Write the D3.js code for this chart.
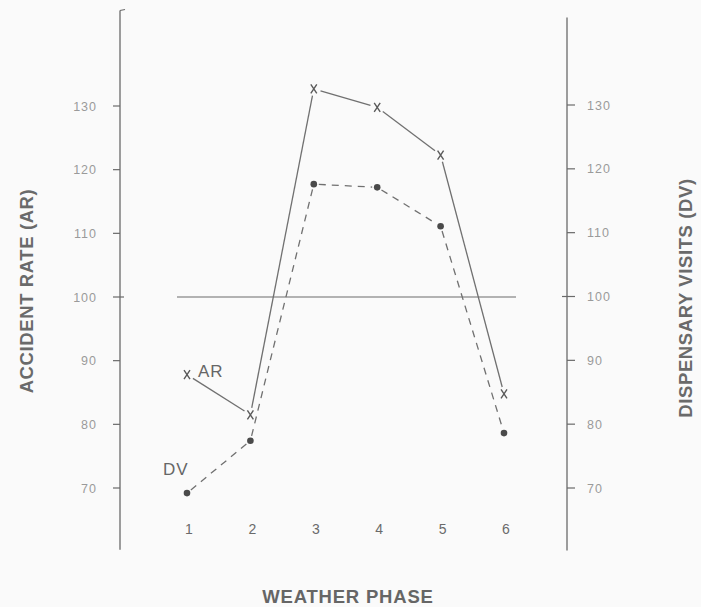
<!DOCTYPE html>
<html>
<head>
<meta charset="utf-8">
<script src="https://cdn.jsdelivr.net/npm/d3@7"></script>
<style>
  html, body { margin: 0; padding: 0; background: #fafafa; }
  svg { display: block; }
  text { font-family: "Liberation Sans", Arial, sans-serif; }
</style>
</head>
<body>
<svg id="chart" width="701" height="607"></svg>
<script>
// Weather phases on the horizontal axis
const phases = [1, 2, 3, 4, 5, 6];
// Accident rate index (AR) per phase, left scale
const accidentRate = [87.8, 81.5, 132.7, 129.8, 122.3, 84.8];
// Dispensary visits index (DV) per phase, right scale
const dispensaryVisits = [69.2, 77.4, 117.6, 117.1, 111.0, 78.6];
// Tick values shared by both vertical scales
const yTicks = [70, 80, 90, 100, 110, 120, 130];
const baseline = 100;

const svg = d3.select("#chart");
const lineColor = "#707070";
const axisColor = "#6a6a6a";

const x = d3.scaleLinear().domain([1, 6]).range([187, 504]);
const yLeft = d3.scaleLinear().domain([70, 130]).range([488, 106]);
const yRight = d3.scaleLinear().domain([70, 130]).range([488, 105]);

const leftX = 120, rightX = 567;

// Left axis
const gl = svg.append("g");
gl.append("line").attr("x1", leftX).attr("x2", leftX)
  .attr("y1", yLeft(145)).attr("y2", yLeft(60.3))
  .attr("stroke", axisColor).attr("stroke-width", 1.3);
gl.append("line").attr("x1", leftX).attr("x2", leftX + 5)
  .attr("y1", yLeft(145)).attr("y2", yLeft(145) - 1)
  .attr("stroke", axisColor).attr("stroke-width", 1.2);
gl.selectAll("line.tick").data(yTicks).join("line").attr("class", "tick")
  .attr("x1", d => leftX - 7).attr("x2", d => d === baseline ? leftX + 4 : leftX)
  .attr("y1", d => yLeft(d)).attr("y2", d => yLeft(d))
  .attr("stroke", axisColor).attr("stroke-width", 1.2);
gl.selectAll("text").data(yTicks).join("text")
  .attr("x", 97).attr("y", d => yLeft(d)).attr("dy", "0.36em")
  .attr("text-anchor", "end").attr("font-size", 12.5)
  .attr("letter-spacing", 1).attr("fill", "#9a9a9a").text(d => d);

// Right axis
const gr = svg.append("g");
gr.append("line").attr("x1", rightX).attr("x2", rightX)
  .attr("y1", yRight(143.7)).attr("y2", yRight(60.2))
  .attr("stroke", axisColor).attr("stroke-width", 1.3);
gr.selectAll("line.tick").data(yTicks).join("line").attr("class", "tick")
  .attr("x1", d => d === baseline ? rightX - 5 : rightX).attr("x2", rightX + 8)
  .attr("y1", d => yRight(d)).attr("y2", d => yRight(d))
  .attr("stroke", axisColor).attr("stroke-width", 1.2);
gr.selectAll("text").data(yTicks).join("text")
  .attr("x", 587).attr("y", d => yRight(d)).attr("dy", "0.36em")
  .attr("text-anchor", "start").attr("font-size", 12.5)
  .attr("letter-spacing", 1).attr("fill", "#9a9a9a").text(d => d);

// Reference line at 100
svg.append("line")
  .attr("x1", 177).attr("x2", 516)
  .attr("y1", yLeft(baseline)).attr("y2", yLeft(baseline))
  .attr("stroke", axisColor).attr("stroke-width", 1.2);

// Phase labels
svg.append("g").selectAll("text").data(phases).join("text")
  .attr("x", d => x(d) + 2).attr("y", 534)
  .attr("text-anchor", "middle").attr("font-size", 14)
  .attr("fill", "#6a6a6a").text(d => d);

// Segment helper: shorten each segment so it stops short of the markers
function segments(vals, scale, gap) {
  const pts = vals.map((v, i) => [x(phases[i]), scale(v)]);
  const segs = [];
  for (let i = 0; i < pts.length - 1; i++) {
    const [x1, y1] = pts[i], [x2, y2] = pts[i + 1];
    const len = Math.hypot(x2 - x1, y2 - y1);
    const ux = (x2 - x1) / len, uy = (y2 - y1) / len;
    segs.push([x1 + ux * gap, y1 + uy * gap, x2 - ux * gap, y2 - uy * gap]);
  }
  return { pts, segs };
}

// AR series: solid line with x markers
const ar = segments(accidentRate, yLeft, 7);
svg.append("g").selectAll("line").data(ar.segs).join("line")
  .attr("x1", d => d[0]).attr("y1", d => d[1])
  .attr("x2", d => d[2]).attr("y2", d => d[3])
  .attr("stroke", lineColor).attr("stroke-width", 1.3);
svg.append("g").selectAll("path").data(ar.pts).join("path")
  .attr("d", d => `M${d[0]-3},${d[1]-4.5}L${d[0]+3},${d[1]+4.5}M${d[0]+3},${d[1]-4.5}L${d[0]-3},${d[1]+4.5}`)
  .attr("stroke", "#5a5a5a").attr("stroke-width", 1.4).attr("fill", "none");

// DV series: dashed line with dot markers
const dv = segments(dispensaryVisits, yRight, 5);
svg.append("g").selectAll("line").data(dv.segs).join("line")
  .attr("x1", d => d[0]).attr("y1", d => d[1])
  .attr("x2", d => d[2]).attr("y2", d => d[3])
  .attr("stroke", lineColor).attr("stroke-width", 1.3)
  .attr("stroke-dasharray", "7,6");
svg.append("g").selectAll("circle").data(dv.pts).join("circle")
  .attr("cx", d => d[0]).attr("cy", d => d[1]).attr("r", 3.3)
  .attr("fill", "#4a4a4a");

// Series labels
svg.append("text").attr("x", x(1) + 11).attr("y", yLeft(accidentRate[0]) + 2)
  .attr("font-size", 17).attr("fill", "#666").attr("letter-spacing", 1).text("AR");
svg.append("text").attr("x", x(1) - 24).attr("y", yRight(dispensaryVisits[0]) - 18)
  .attr("font-size", 17).attr("fill", "#666").attr("letter-spacing", 1).text("DV");

// Axis titles
svg.append("text").attr("transform", "translate(33,291) rotate(-90)")
  .attr("text-anchor", "middle").attr("font-size", 18.5).attr("font-weight", "bold")
  .attr("fill", "#6a6a6a").attr("letter-spacing", 0.6).text("ACCIDENT RATE (AR)");
svg.append("text").attr("transform", "translate(692,298) rotate(-90)")
  .attr("text-anchor", "middle").attr("font-size", 18.5).attr("font-weight", "bold")
  .attr("fill", "#6a6a6a").attr("letter-spacing", 0.6).text("DISPENSARY VISITS (DV)");
svg.append("text").attr("x", 348).attr("y", 603)
  .attr("text-anchor", "middle").attr("font-size", 18.5).attr("font-weight", "bold")
  .attr("fill", "#666").attr("letter-spacing", 0.8).text("WEATHER PHASE");
</script>
</body>
</html>
